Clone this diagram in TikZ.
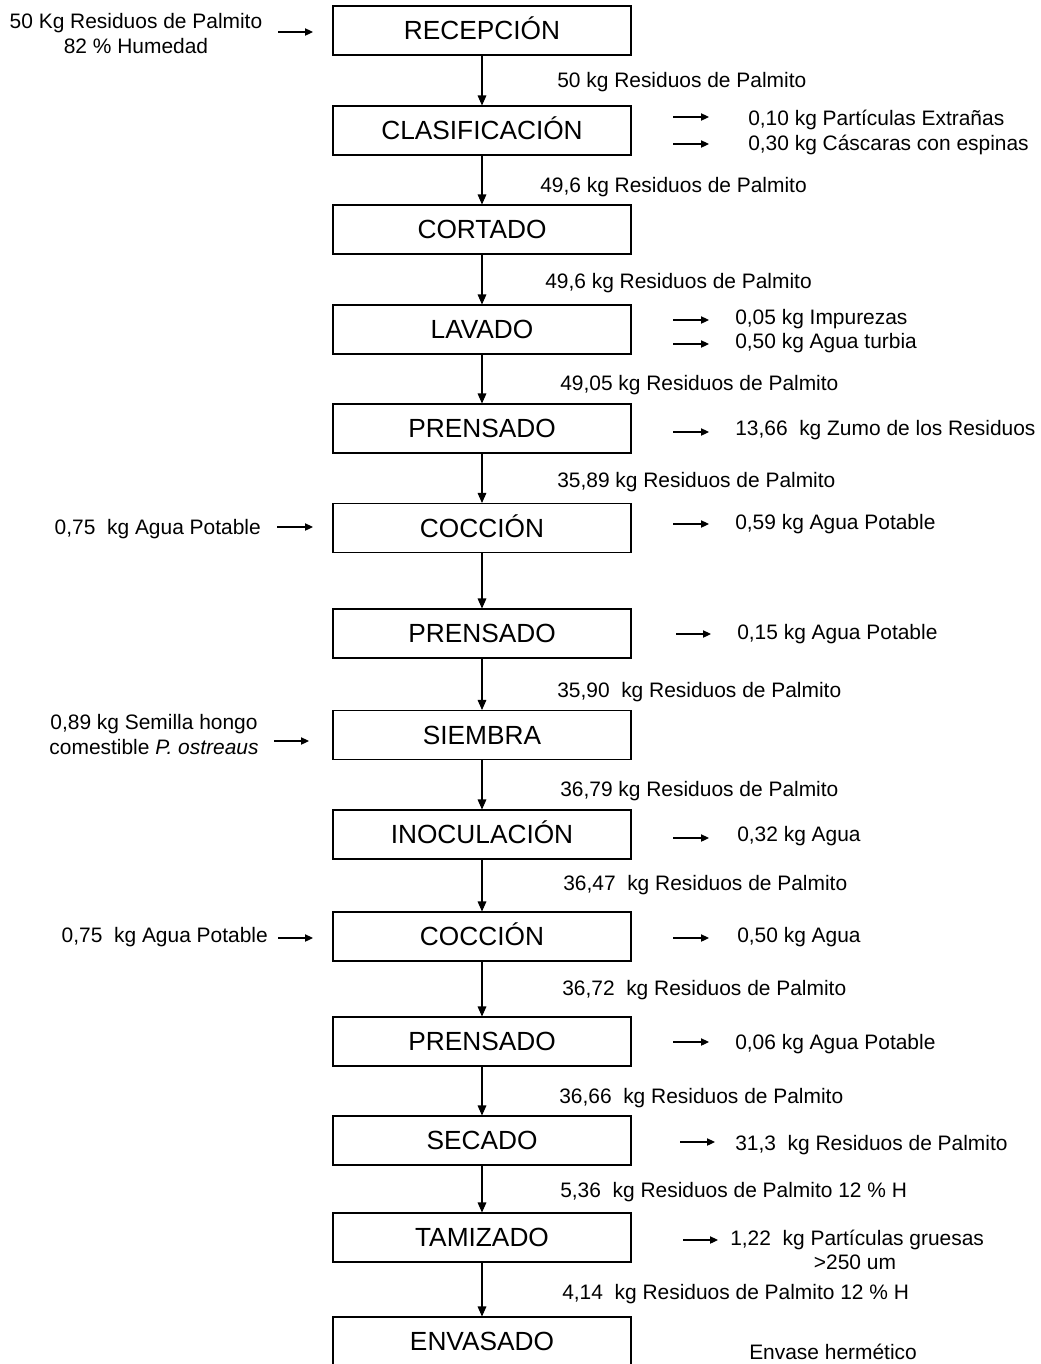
\documentclass[tikz,border=0pt]{standalone}
\usepackage{fontspec}
\setmainfont{Liberation Sans}
\usetikzlibrary{arrows.meta}
\begin{document}
\begin{tikzpicture}[x=0.75pt,y=-0.75pt,
 box/.style={draw, line width=0.8pt, minimum width=223.5pt, minimum height=36.75pt, inner sep=0pt, font=\fontsize{19.7}{23}\selectfont, text height=14.2pt, text depth=0pt},
 lbl/.style={inner sep=0pt, font=\fontsize{15.7}{19}\selectfont, text height=11.3pt, text depth=0pt},
 flow/.style={line width=0.8pt, -{Triangle[length=7.5pt,width=6.5pt]}},
 side/.style={line width=0.8pt, -{Triangle[length=6pt,width=5.5pt]}}]
\useasboundingbox (0,0) rectangle (1041,1364);
\clip (0,0) rectangle (1041,1364);
% process boxes
\node[box] (b1) at (482,30.5) {RECEPCIÓN};
\node[box] (b2) at (482,130.5) {CLASIFICACIÓN};
\node[box] (b3) at (482,229.5) {CORTADO};
\node[box] (b4) at (482,329.5) {LAVADO};
\node[box] (b5) at (482,428.5) {PRENSADO};
\node[box] (b6) at (482,528) {COCCIÓN};
\node[box] (b7) at (482,633.5) {PRENSADO};
\node[box] (b8) at (482,735) {SIEMBRA};
\node[box] (b9) at (482,834.5) {INOCULACIÓN};
\node[box] (b10) at (482,936.5) {COCCIÓN};
\node[box] (b11) at (482,1041.5) {PRENSADO};
\node[box] (b12) at (482,1140.5) {SECADO};
\node[box] (b13) at (482,1237.5) {TAMIZADO};
\node[box] (b14) at (482,1341.5) {ENVASADO};
\foreach \i [evaluate=\i as \j using int(\i+1)] in {1,...,13}
  \draw[flow] (b\i.south) -- (b\j.north);
% flow labels
\node[lbl,anchor=west] (f1) at (557,80) {50 kg Residuos de Palmito};
\node[lbl,anchor=west] (f2) at (540,185) {49,6 kg Residuos de Palmito};
\node[lbl,anchor=west] (f3) at (545,281) {49,6 kg Residuos de Palmito};
\node[lbl,anchor=west] (f4) at (560,383) {49,05 kg Residuos de Palmito};
\node[lbl,anchor=west] (f5) at (557,480) {35,89 kg Residuos de Palmito};
\node[lbl,anchor=west] (f7) at (557,690) {35,90~ kg Residuos de Palmito};
\node[lbl,anchor=west] (f8) at (560,789) {36,79 kg Residuos de Palmito};
\node[lbl,anchor=west] (f9) at (563,883) {36,47~ kg Residuos de Palmito};
\node[lbl,anchor=west] (f10) at (562,988) {36,72~ kg Residuos de Palmito};
\node[lbl,anchor=west] (f11) at (559,1096) {36,66~ kg Residuos de Palmito};
\node[lbl,anchor=west] (f12) at (560,1190) {5,36~ kg Residuos de Palmito 12 \% H};
\node[lbl,anchor=west] (f13) at (562,1292) {4,14~ kg Residuos de Palmito 12 \% H};
% left inputs
\node[lbl] (l1) at (136,21) {50 Kg Residuos de Palmito};
\node[lbl] (l1b) at (136,46) {82 \% Humedad};
\coordinate (la1) at (278,32); \coordinate (la1e) at (313,32);
\draw[side] (la1) -- (la1e);
\node[lbl,anchor=east] (l2) at (261,527) {0,75~ kg Agua Potable};
\coordinate (la2) at (277,527); \coordinate (la2e) at (313,527);
\draw[side] (la2) -- (la2e);
\node[lbl] (l3) at (154,722) {0,89 kg Semilla hongo};
\node[lbl] (l3b) at (154,747) {comestible \textit{P. ostreaus}};
\coordinate (la3) at (274,741); \coordinate (la3e) at (309,741);
\draw[side] (la3) -- (la3e);
\node[lbl,anchor=east] (l4) at (268,935) {0,75~ kg Agua Potable};
\coordinate (la4) at (278,938); \coordinate (la4e) at (313,938);
\draw[side] (la4) -- (la4e);
% right outputs
\node[lbl,anchor=west] (r1) at (748,118) {0,10 kg Partículas Extrañas};
\coordinate (ra1) at (673,117); \coordinate (ra1e) at (709,117);
\draw[side] (ra1) -- (ra1e);
\node[lbl,anchor=west] (r2) at (748,143) {0,30 kg Cáscaras con espinas};
\coordinate (ra2) at (673,144); \coordinate (ra2e) at (709,144);
\draw[side] (ra2) -- (ra2e);
\node[lbl,anchor=west] (r3) at (735,317) {0,05 kg Impurezas};
\coordinate (ra3) at (673,320); \coordinate (ra3e) at (709,320);
\draw[side] (ra3) -- (ra3e);
\node[lbl,anchor=west] (r4) at (735,341) {0,50 kg Agua turbia};
\coordinate (ra4) at (673,344); \coordinate (ra4e) at (709,344);
\draw[side] (ra4) -- (ra4e);
\node[lbl,anchor=west] (r5) at (735,428) {13,66~ kg Zumo de los Residuos};
\coordinate (ra5) at (673,432); \coordinate (ra5e) at (709,432);
\draw[side] (ra5) -- (ra5e);
\node[lbl,anchor=west] (r6) at (735,522) {0,59 kg Agua Potable};
\coordinate (ra6) at (673,524); \coordinate (ra6e) at (709,524);
\draw[side] (ra6) -- (ra6e);
\node[lbl,anchor=west] (r7) at (737,632) {0,15 kg Agua Potable};
\coordinate (ra7) at (676,634); \coordinate (ra7e) at (711,634);
\draw[side] (ra7) -- (ra7e);
\node[lbl,anchor=west] (r8) at (737,834) {0,32 kg Agua};
\coordinate (ra8) at (673,838); \coordinate (ra8e) at (709,838);
\draw[side] (ra8) -- (ra8e);
\node[lbl,anchor=west] (r9) at (737,935) {0,50 kg Agua};
\coordinate (ra9) at (673,938); \coordinate (ra9e) at (709,938);
\draw[side] (ra9) -- (ra9e);
\node[lbl,anchor=west] (r10) at (735,1042) {0,06 kg Agua Potable};
\coordinate (ra10) at (673,1042); \coordinate (ra10e) at (709,1042);
\draw[side] (ra10) -- (ra10e);
\node[lbl,anchor=west] (r11) at (735,1143) {31,3~ kg Residuos de Palmito};
\coordinate (ra11) at (680,1142); \coordinate (ra11e) at (715,1142);
\draw[side] (ra11) -- (ra11e);
\node[lbl,anchor=west] (r12) at (730,1238) {1,22~ kg Partículas gruesas};
\node[lbl] (r12b) at (855,1262) {>250 um};
\coordinate (ra12) at (683,1240); \coordinate (ra12e) at (718,1240);
\draw[side] (ra12) -- (ra12e);
\node[lbl,anchor=west] (r13) at (749,1352) {Envase hermético};
\end{tikzpicture}
\end{document}
